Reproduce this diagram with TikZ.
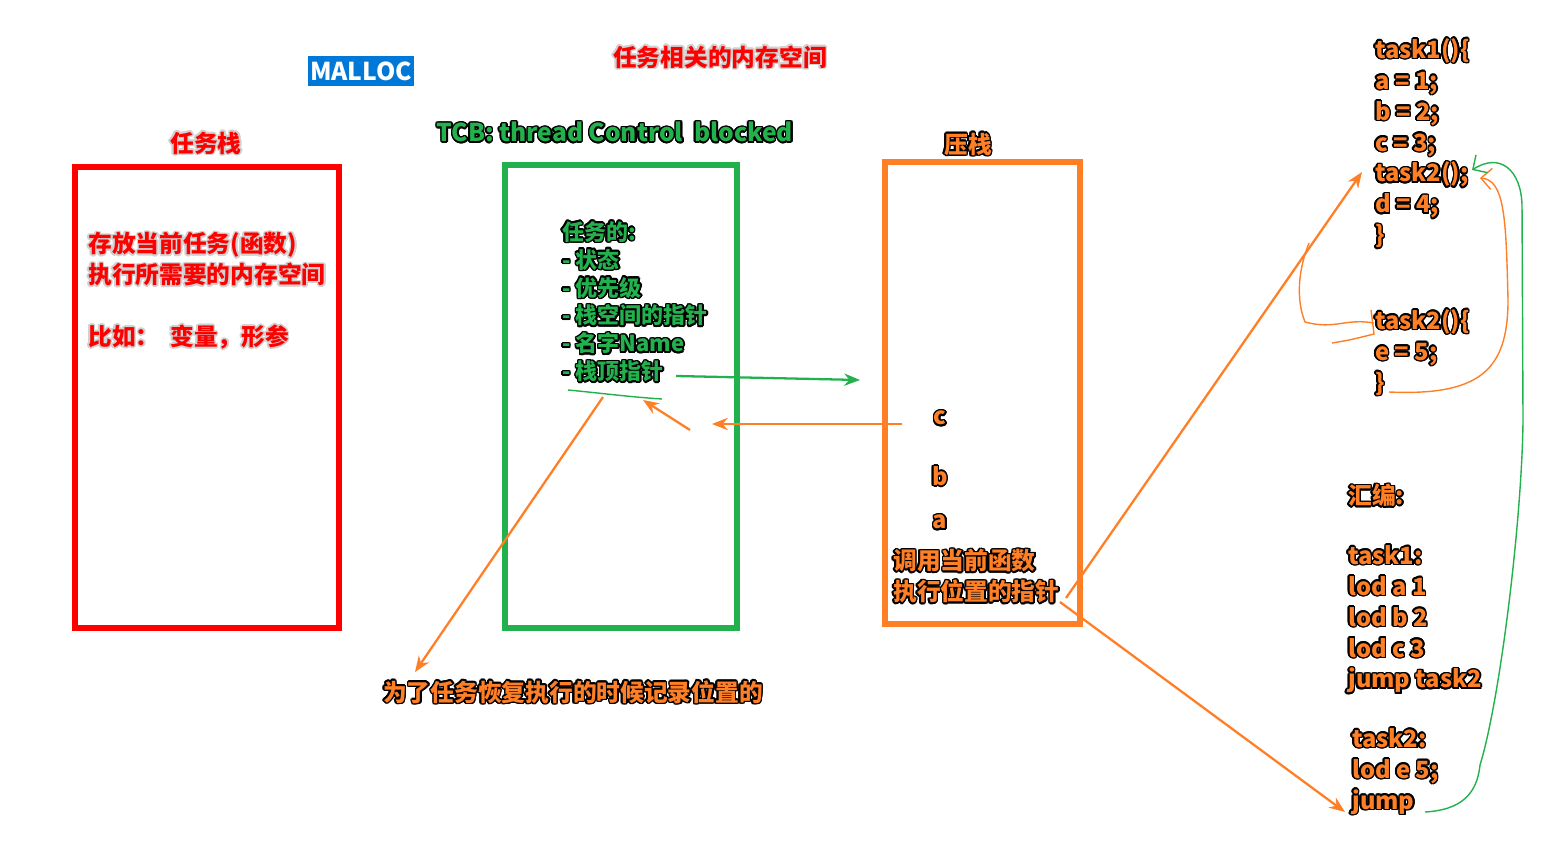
\documentclass[tikz,border=0pt]{standalone}
\usepackage{fontspec}
\setmainfont{Noto Sans CJK SC}
\usepackage[copies]{contour}
\usepackage{tikz}
\usetikzlibrary{arrows.meta, positioning, calc}
\usepackage{xcolor}

\definecolor{memred}{RGB}{255,0,0}
\definecolor{tcbgreen}{RGB}{34,177,76}
\definecolor{stackorange}{RGB}{255,127,39}
\definecolor{mallocblue}{RGB}{0,120,215}

\contourlength{0.9pt}
\newcommand{\darkrim}[1]{\contour{black}{#1}}
\newcommand{\lightrim}[1]{\contour{black!18}{#1}}

\tikzset{
  redtxt/.style={text=memred, font=\fontsize{13.5}{17.6}\selectfont\bfseries, align=left, inner sep=0pt},
  greentxt/.style={text=tcbgreen, font=\fontsize{12.5}{15.9}\selectfont\bfseries, align=left, inner sep=0pt},
  orangetxt/.style={text=stackorange, font=\fontsize{13.5}{17.6}\selectfont\bfseries, align=left, inner sep=0pt},
  membox/.style={draw, line width=3.4pt, inner sep=0pt},
  linkarrow/.style={line width=1.3pt, -{Stealth[length=9pt, width=7pt]}},
  scribble/.style={line width=0.8pt},
}

\begin{document}
\begin{tikzpicture}[x=0.02cm, y=-0.02cm]
  \useasboundingbox (0,0) rectangle (1547,844);

  % headings
  \node[fill=mallocblue, text=white, font=\fontsize{14}{16}\selectfont\bfseries,
        minimum width=2.12cm, minimum height=0.6cm, inner sep=0pt] (malloc) at (361,71) {MALLOC};
  \node[redtxt] (memtitle) at (720,58) {\lightrim{任务相关的内存空间}};
  \node[greentxt, font=\fontsize{14}{16}\selectfont\bfseries] (tcbtitle) at (615,133) {\darkrim{TCB: thread Control\ \ blocked}};

  % the three boxes
  \node[membox, draw=memred, minimum width=5.28cm, minimum height=9.22cm] (taskstack) at (207,397.5) {};
  \node[membox, draw=tcbgreen, minimum width=4.64cm, minimum height=9.26cm] (tcb) at (621,396.5) {};
  \node[membox, draw=stackorange, minimum width=3.9cm, minimum height=9.24cm] (pushstack) at (982.5,393) {};
  \node[redtxt] (stacktitle) at (206,144) {\lightrim{任务栈}};
  \node[orangetxt] (pushtitle) at (968,145) {\darkrim{压栈}};

  % box contents
  \node[redtxt, anchor=north west] (stacknote) at (88,232)
    {\lightrim{存放当前任务(函数)}\\\lightrim{执行所需要的内存空间}\\[17.6pt]\lightrim{比如：\ \ 变量，形参}};
  \node[greentxt, anchor=north west] (tcblist) at (562,221)
    {\darkrim{任务的:}\\\darkrim{- 状态}\\\darkrim{- 优先级}\\\darkrim{- 栈空间的指针}\\\darkrim{- 名字Name}\\\darkrim{- 栈顶指针}};
  \node[orangetxt] (varc) at (940,419) {\darkrim{c}};
  \node[orangetxt] (varb) at (940,477) {\darkrim{b}};
  \node[orangetxt] (vara) at (940,523) {\darkrim{a}};
  \node[orangetxt, anchor=north west] (retaddr) at (893,549)
    {\darkrim{调用当前函数}\\\darkrim{执行位置的指针}};
  \node[orangetxt] (caption) at (573,693) {\darkrim{为了任务恢复执行的时候记录位置的}};

  % code on the right
  \node[orangetxt, anchor=north west] (task1code) at (1375,38)
    {\darkrim{task1()\{}\\\darkrim{a = 1;}\\\darkrim{b = 2;}\\\darkrim{c = 3;}\\\darkrim{task2();}\\\darkrim{d = 4;}\\\darkrim{\}}};
  \node[orangetxt, anchor=north west] (task2code) at (1375,309)
    {\darkrim{task2()\{}\\\darkrim{e = 5;}\\\darkrim{\}}};
  \node[orangetxt, anchor=north west] (asmtitle) at (1348,484) {\darkrim{汇编:}};
  \node[orangetxt, anchor=north west] (task1asm) at (1348,545)
    {\darkrim{task1:}\\\darkrim{lod a 1}\\\darkrim{lod b 2}\\\darkrim{lod c 3}\\\darkrim{jump task2}};
  \node[orangetxt, anchor=north west] (task2asm) at (1352,728)
    {\darkrim{task2:}\\\darkrim{lod e 5;}\\\darkrim{jump}};

  % free ends
  \coordinate (toplink) at (676,376);
  \coordinate (stackin) at (860,380);
  \coordinate (stackout) at (902,424);
  \coordinate (tcbin) at (712,424);
  \coordinate (markfrom) at (690,430);
  \coordinate (markto) at (643,400);
  \coordinate (lineA) at (568,390);
  \coordinate (lineB) at (662,399);
  \coordinate (notefrom) at (603,397);
  \coordinate (noteto) at (415,672);
  \coordinate (callfrom) at (1066,598);
  \coordinate (callto) at (1362,172);
  \coordinate (jumpfrom) at (1060,602);
  \coordinate (jumpto) at (1345,812);

  % arrows between the boxes
  \draw[tcbgreen, scribble] (lineA) .. controls (600,393) and (630,397) .. (lineB);
  \draw[tcbgreen, linkarrow] (toplink) -- (stackin);
  \draw[stackorange, linkarrow] (stackout) -- (tcbin);
  \draw[stackorange, linkarrow] (markfrom) -- (markto);
  \draw[stackorange, linkarrow] (notefrom) -- (noteto);
  \draw[stackorange, linkarrow] (callfrom) -- (callto);
  \draw[stackorange, linkarrow] (jumpfrom) -- (jumpto);

  % hand strokes by the code
  \draw[stackorange, scribble] (1374,323) .. controls (1345,318) and (1335,330) .. (1305,322)
    .. controls (1296,300) and (1298,270) .. (1309,243);
  \draw[stackorange, scribble] (1332,343) .. controls (1350,340) .. (1374,334) -- (1371,310);
  \draw[stackorange, scribble, -{Straight Barb[length=6pt]}] (1389,392) .. controls (1480,396) and (1508,370) .. (1508,300)
    .. controls (1506,220) and (1505,180) .. (1480,178);
  \draw[tcbgreen, scribble, -{Straight Barb[length=6pt]}] (1425,812) .. controls (1460,810) and (1477,795) .. (1480,765)
    .. controls (1500,700) and (1522,520) .. (1523,420) -- (1522,205)
    .. controls (1521,170) and (1500,152) .. (1472,170);
\end{tikzpicture}
\end{document}
